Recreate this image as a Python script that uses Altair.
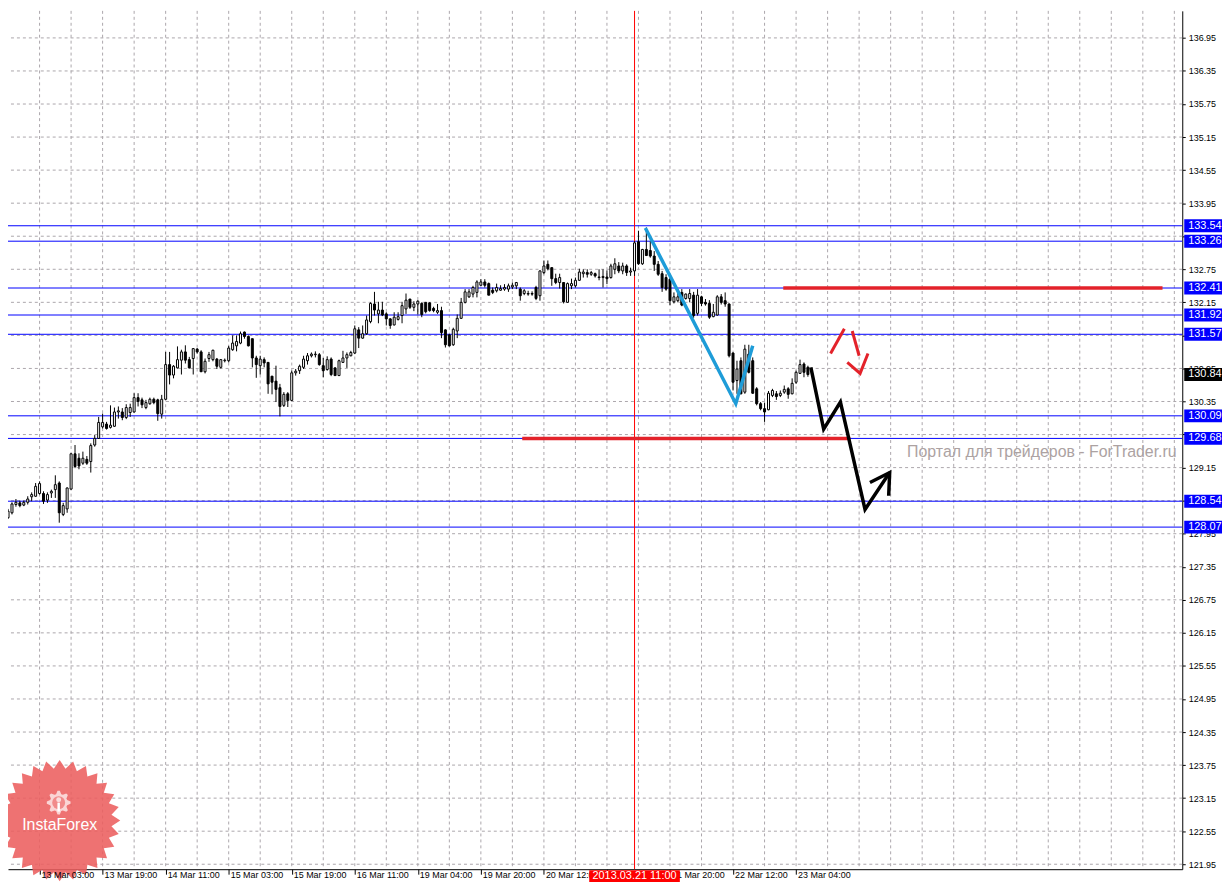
import math
import altair as alt
import pandas as pd

# ---------------- data (H1 bars, index = bar number) ----------------
opens = [128.24,128.33,128.48,128.51,128.47,128.52,128.62,128.63,128.68,128.68,
128.56,128.69,128.75,128.87,128.30,128.40,128.76,129.40,129.32,129.23,
129.30,129.26,129.56,129.68,129.89,129.94,129.88,129.90,130.16,130.16,
130.06,130.15,130.16,130.42,130.38,130.24,130.31,130.39,130.38,130.12,
130.39,131.02,130.83,130.96,131.10,131.25,131.11,131.13,131.30,131.25,
130.89,131.13,131.11,131.12,130.97,131.09,131.09,131.29,131.36,131.41,
131.61,131.53,131.49,131.14,131.00,131.11,131.06,130.81,130.72,130.60,
130.28,130.49,130.37,130.87,130.91,130.97,131.09,131.18,131.20,131.20,
131.00,130.93,131.12,130.96,130.82,131.06,131.14,131.18,131.23,131.65,
131.50,131.58,131.80,132.12,131.94,132.01,131.94,131.85,131.74,131.84,
131.91,132.03,132.21,132.06,132.12,132.13,132.15,132.14,132.04,131.97,
132.00,131.65,131.56,131.38,131.63,131.86,132.15,132.25,132.30,132.33,
132.46,132.52,132.49,132.37,132.36,132.37,132.39,132.39,132.43,132.45,
132.39,132.31,132.30,132.31,132.42,132.27,132.69,132.84,132.78,132.58,
132.51,132.51,132.15,132.45,132.45,132.55,132.67,132.69,132.66,132.67,
132.61,132.60,132.61,132.60,132.75,132.81,132.72,132.81,132.70,132.72,
133.25,132.85,133.11,133.09,132.99,132.84,132.67,132.60,132.57,132.16,
132.18,132.33,132.22,132.22,132.28,131.95,132.25,132.15,132.13,131.89,
131.92,132.25,132.18,132.12,131.23,130.73,131.09,130.52,131.21,131.09,
130.58,130.31,130.22,130.20,130.46,130.49,130.46,130.52,130.58,130.49,
130.70,130.86,131.03,130.97]

highs = [128.40,128.52,128.58,128.55,128.55,128.63,128.70,128.87,128.90,128.72,
128.70,128.75,129.01,128.90,128.51,128.79,129.41,129.56,129.41,129.44,
129.36,129.59,129.74,130.07,130.13,129.98,130.28,130.24,130.26,130.23,
130.30,130.31,130.50,130.50,130.42,130.38,130.42,130.42,130.40,130.47,
131.25,131.25,131.01,131.35,131.29,131.37,131.16,131.32,131.32,131.28,
131.13,131.25,131.29,131.14,131.12,131.13,131.36,131.55,131.55,131.62,
131.62,131.55,131.49,131.18,131.18,131.15,131.06,130.81,131.00,130.67,
130.52,130.52,130.91,130.94,131.02,131.18,131.23,131.24,131.26,131.23,
131.14,131.17,131.15,130.97,131.11,131.27,131.24,131.27,131.73,131.70,
131.73,131.91,132.15,132.34,132.16,132.16,131.97,131.86,131.97,131.97,
132.16,132.31,132.21,132.17,132.19,132.15,132.15,132.15,132.07,132.12,
132.07,131.66,131.57,131.69,131.93,132.23,132.39,132.39,132.45,132.55,
132.57,132.57,132.51,132.42,132.49,132.46,132.48,132.49,132.51,132.52,
132.42,132.39,132.36,132.35,132.45,132.73,132.91,132.91,132.78,132.67,
132.67,132.51,132.51,132.58,132.60,132.76,132.75,132.75,132.72,132.69,
132.75,132.75,132.73,132.85,132.95,132.88,132.87,132.84,132.78,133.26,
133.45,133.12,133.51,133.26,133.08,132.90,132.72,132.66,132.60,132.33,
132.39,132.39,132.31,132.39,132.34,132.39,132.27,132.21,132.19,132.12,
132.28,132.30,132.33,132.13,131.24,131.09,131.15,131.38,131.38,131.15,
130.61,130.34,130.33,130.54,130.58,130.54,130.55,130.64,130.61,130.77,
130.91,131.11,131.06,131.00]

lows = [128.22,128.30,128.44,128.43,128.45,128.48,128.54,128.62,128.66,128.49,
128.51,128.60,128.60,128.15,128.27,128.33,128.75,129.14,129.12,129.20,
129.20,129.06,129.53,129.67,129.86,129.84,129.86,129.89,130.04,130.01,
130.03,130.07,130.15,130.26,130.23,130.21,130.29,130.30,130.00,130.04,
130.38,130.66,130.77,130.95,130.84,131.04,130.95,130.84,131.22,130.89,
130.86,131.07,131.08,130.94,130.95,131.06,131.06,131.27,131.26,131.39,
131.49,131.35,130.97,130.78,130.84,130.97,130.49,130.48,130.34,130.08,
130.25,130.25,130.36,130.82,130.85,130.94,131.02,131.15,131.15,131.00,
130.79,130.91,130.81,130.82,130.82,131.05,130.96,131.17,131.21,131.32,
131.49,131.56,131.77,131.91,131.77,131.90,131.73,131.67,131.73,131.82,
131.77,131.94,132.03,131.99,131.93,131.88,131.95,131.98,131.97,131.94,
131.50,131.33,131.35,131.36,131.50,131.85,132.13,132.23,132.24,132.24,
132.45,132.42,132.28,132.30,132.33,132.36,132.36,132.34,132.39,132.39,
132.18,132.28,132.27,132.27,132.19,132.18,132.66,132.73,132.45,132.48,
132.40,132.13,132.14,132.39,132.42,132.54,132.60,132.60,132.63,132.60,
132.55,132.42,132.48,132.58,132.66,132.68,132.66,132.63,132.63,132.63,
132.83,132.83,132.99,132.96,132.72,132.63,132.34,132.36,132.10,132.13,
132.15,132.08,132.20,132.15,131.87,131.91,132.08,132.09,131.85,131.88,
131.91,132.11,132.07,131.15,130.55,130.49,130.48,130.49,130.86,130.49,
130.28,130.19,129.98,130.19,130.43,130.38,130.43,130.49,130.40,130.48,
130.67,130.85,130.79,130.80]

closes = [128.36,128.49,128.52,128.46,128.52,128.58,128.66,128.81,128.86,128.54,
128.66,128.72,128.84,128.33,128.46,128.78,129.40,129.17,129.18,129.32,
129.23,129.55,129.68,129.97,129.97,129.86,129.92,130.16,130.18,130.06,
130.24,130.24,130.42,130.35,130.29,130.33,130.39,130.33,130.13,130.39,
131.02,130.83,130.99,131.11,131.25,131.10,130.96,131.31,131.25,130.89,
131.08,131.20,131.28,130.99,131.11,131.10,131.32,131.41,131.44,131.58,
131.53,131.36,131.14,131.02,131.12,131.05,130.67,130.70,130.57,130.26,
130.48,130.37,130.87,130.90,130.99,131.12,131.18,131.21,131.21,131.02,
130.91,131.11,130.84,130.82,131.09,131.14,131.20,131.24,131.67,131.50,
131.58,131.83,132.13,132.01,132.01,131.92,131.85,131.73,131.88,131.89,
132.09,132.19,132.06,132.12,132.17,131.93,131.98,132.00,132.00,132.00,
131.60,131.38,131.36,131.66,131.86,132.15,132.34,132.34,132.42,132.52,
132.52,132.46,132.28,132.33,132.42,132.40,132.42,132.45,132.46,132.51,
132.27,132.36,132.31,132.30,132.22,132.72,132.81,132.76,132.58,132.51,
132.60,132.16,132.49,132.49,132.55,132.70,132.70,132.66,132.69,132.63,
132.60,132.62,132.58,132.81,132.85,132.72,132.81,132.69,132.72,133.23,
132.85,133.11,133.00,132.99,132.84,132.66,132.42,132.39,132.18,132.25,
132.25,132.10,132.30,132.31,131.91,132.28,132.13,132.12,131.88,131.97,
132.25,132.15,132.12,131.18,130.70,130.94,130.49,131.30,130.88,130.50,
130.31,130.22,130.16,130.50,130.55,130.44,130.50,130.57,130.48,130.68,
130.88,131.02,130.88,130.84]

price_ticks = [121.95, 122.55, 123.15, 123.75, 124.35, 124.95, 125.55, 126.15, 126.75,
               127.35, 127.95, 128.55, 129.15, 129.75, 130.35, 130.95, 131.55, 132.15,
               132.75, 133.35, 133.95, 134.55, 135.15, 135.75, 136.35, 136.95]
hidden_ticks = [133.35, 131.55, 128.55]   # fully covered by level boxes in the reference

date_tick_bars = [8, 24, 40, 56, 72, 88, 104, 120, 136, 168, 184, 200]
date_labels = ["13 Mar 03:00", "13 Mar 19:00", "14 Mar 11:00", "15 Mar 03:00",
               "15 Mar 19:00", "16 Mar 11:00", "19 Mar 04:00", "19 Mar 20:00",
               "20 Mar 12:00", "21 Mar 20:00", "22 Mar 12:00", "23 Mar 04:00"]
axis_tick_bars = [8, 24, 40, 56, 72, 88, 104, 120, 136, 152, 168, 184, 200]
grid_bars = list(range(8, 297, 8))

level_prices = [133.54, 133.26, 132.41, 131.92, 131.57, 130.09, 129.68, 128.54, 128.07]
current_price = 130.84

marker_bar = 159
marker_label = "2013.03.21 11:00"
marker_box = [147.5, 170.5]

red_lvl_price = [132.41, 129.68]
red_lvl_from = [196.75, 130.5]
red_lvl_to = [293.0, 213.75]

cyan_bars = [161.75, 184.7, 189.0]
cyan_prices = [133.50, 130.31, 131.36]

black_seg = [0, 0, 0, 0, 0, 1, 1, 1]
black_bars = [203.75, 207.0, 211.25, 217.5, 223.75, 218.75, 223.75, 223.5]
black_prices = [130.97, 129.85, 130.34, 128.39, 129.06, 128.88, 129.06, 128.64]

red_seg = [0, 0, 1, 1, 2, 2, 2]
red_bars = [208.75, 212.25, 214.25, 216.0, 213.0, 216.25, 218.25]
red_prices = [131.22, 131.67, 131.63, 131.18, 131.06, 130.86, 131.22]

watermark = "Портал для трейдеров - ForTrader.ru"
logo_text = "InstaForex"

# ---------------- styling ----------------
W, H = 1182, 864
FONT = "Liberation Sans"
GRID = "#ABA6AB"
BLUE = "#0000FF"
RED = "#E3222A"
CYAN = "#1E9CD8"

x_scale = alt.Scale(domain=[1.25, 296.75], nice=False, zero=False)
y_scale = alt.Scale(domain=[121.86, 137.441], nice=False, zero=False)

hidden_js = "[" + ",".join(f"{v:.2f}" for v in hidden_ticks) + "]"
x_axis = alt.Axis(values=axis_tick_bars, labels=False, ticks=True, tickSize=5,
                  tickColor="black", domainColor="black", domainWidth=1,
                  grid=False, title=None, orient="bottom", zindex=0)
y_axis = alt.Axis(values=price_ticks, orient="right", grid=False,
                  labelExpr=f"indexof({hidden_js}, datum.value) >= 0 ? '' : format(datum.value, '.2f')",
                  tickSize=3, tickColor="black", domainColor="black", domainWidth=1,
                  labelFont=FONT, labelFontSize=9, labelColor="black", labelPadding=3,
                  labelFlush=False, labelOverlap=False, labelBaseline="middle",
                  title=None, zindex=0)


def X(f):
    return alt.X(f, type="quantitative", scale=x_scale, axis=x_axis)


def Y(f):
    return alt.Y(f, type="quantitative", scale=y_scale, axis=y_axis)


candles = pd.DataFrame({"bar": list(range(len(opens))), "open": opens, "high": highs,
                        "low": lows, "close": closes})
candles["fill"] = ["white" if c >= o else "black" for o, c in zip(opens, closes)]

# base layer carrying both axes
axes_df = pd.DataFrame({"bar": [marker_bar], "price": [current_price]})
axes_layer = alt.Chart(axes_df).mark_point(opacity=0, size=1).encode(
    x=X("bar"), y=Y("price"))

# grid
grid_v = alt.Chart(pd.DataFrame({"bar": grid_bars})).mark_rule(
    color=GRID, strokeDash=[3, 3], strokeWidth=1).encode(x=X("bar"))
grid_h = alt.Chart(pd.DataFrame({"price": price_ticks})).mark_rule(
    color=GRID, strokeDash=[3, 3], strokeWidth=1).encode(y=Y("price"))

# InstaForex logo (decoration)
star_pts = []
for i in range(56):
    a = -math.pi / 2 + i * math.pi / 28
    r = 1.0 if i % 2 == 0 else 0.86
    star_pts.append(f"{r * math.cos(a):.4f},{r * math.sin(a):.4f}")
star_path = "M" + " L".join(star_pts) + " Z"
gear_pts = []
for i in range(32):
    a = -math.pi / 2 + (i - 0.5) * 2 * math.pi / 32
    r = 1.0 if i % 4 in (0, 1) else 0.74
    gear_pts.append(f"{r * math.cos(a):.4f},{r * math.sin(a):.4f}")
gear_path = "M" + " L".join(gear_pts) + " Z"

logo_df = pd.DataFrame({"t": [logo_text]})
star = alt.Chart(logo_df).mark_point(shape=star_path, filled=True, size=122 ** 2,
                                     color="#EC5E5E", opacity=0.88, strokeWidth=0).encode(
    x=alt.value(52), y=alt.value(815))
gear = alt.Chart(logo_df).mark_point(shape=gear_path, filled=True, size=24 ** 2,
                                     color="white", strokeWidth=0).encode(
    x=alt.value(51), y=alt.value(797))
gear_hole = alt.Chart(logo_df).mark_point(shape="circle", filled=True, size=13 ** 2,
                                          color="#EC6A6A", strokeWidth=0).encode(
    x=alt.value(51), y=alt.value(797))
gear_head = alt.Chart(logo_df).mark_point(shape="circle", filled=True, size=5 ** 2,
                                          color="white", strokeWidth=0).encode(
    x=alt.value(51), y=alt.value(794))
gear_body = alt.Chart(logo_df).mark_rule(color="white", strokeWidth=2.5).encode(
    x=alt.value(51), y=alt.value(797), y2=alt.value(806))
logo_txt = alt.Chart(logo_df).mark_text(font=FONT, fontSize=16, color="white",
                                        align="center", baseline="middle").encode(
    x=alt.value(52), y=alt.value(820), text="t:N")

wm = alt.Chart(pd.DataFrame({"t": [watermark]})).mark_text(
    font=FONT, fontSize=16, color="#ACA2A2", align="left", baseline="alphabetic").encode(
    x=alt.value(905), y=alt.value(449), text="t:N")

# levels
levels = alt.Chart(pd.DataFrame({"price": level_prices})).mark_rule(
    color=BLUE, strokeWidth=1).encode(y=Y("price"))
vline = alt.Chart(pd.DataFrame({"bar": [marker_bar]})).mark_rule(
    color="#FF0000", strokeWidth=1).encode(x=X("bar"))

# candles
wicks = alt.Chart(candles).mark_rule(color="black", strokeWidth=1, clip=True).encode(
    x=X("bar"), y=Y("low"), y2=alt.Y2("high"))
bodies = alt.Chart(candles).mark_bar(size=2, stroke="black", strokeWidth=1, clip=True).encode(
    x=X("bar"), y=Y("open"), y2=alt.Y2("close"), fill=alt.Fill("fill:N", scale=None))

# drawings
red_lv = alt.Chart(pd.DataFrame({"price": red_lvl_price, "b0": red_lvl_from,
                                 "b1": red_lvl_to})).mark_rule(
    color=RED, strokeWidth=3.5).encode(x=X("b0"), x2=alt.X2("b1"), y=Y("price"))
cyan = alt.Chart(pd.DataFrame({"bar": cyan_bars, "price": cyan_prices,
                               "i": list(range(len(cyan_bars)))})).mark_line(
    color=CYAN, strokeWidth=3.5, strokeJoin="miter").encode(
    x=X("bar"), y=Y("price"), order="i:Q")
barrow = alt.Chart(pd.DataFrame({"bar": black_bars, "price": black_prices, "seg": black_seg,
                                 "i": list(range(len(black_bars)))})).mark_line(
    color="black", strokeWidth=3.5, strokeJoin="miter").encode(
    x=X("bar"), y=Y("price"), detail="seg:N", order="i:Q")
rarrow = alt.Chart(pd.DataFrame({"bar": red_bars, "price": red_prices, "seg": red_seg,
                                 "i": list(range(len(red_bars)))})).mark_line(
    color=RED, strokeWidth=3, strokeJoin="miter").encode(
    x=X("bar"), y=Y("price"), detail="seg:N", order="i:Q")

# bottom date labels
dates = alt.Chart(pd.DataFrame({"bar": date_tick_bars, "t": date_labels})).mark_text(
    font=FONT, fontSize=9, color="black", align="left", baseline="top", dx=2).encode(
    x=X("bar"), y=alt.value(866), text="t:N")
mbox = alt.Chart(pd.DataFrame({"b0": [marker_box[0]], "b1": [marker_box[1]]})).mark_rect(
    color="#FF0000").encode(x=X("b0"), x2=alt.X2("b1"), y=alt.value(865), y2=alt.value(884))
mtxt = alt.Chart(pd.DataFrame({"bar": [marker_bar], "t": [marker_label]})).mark_text(
    font=FONT, fontSize=11, color="white", align="center", baseline="top").encode(
    x=X("bar"), y=alt.value(865), text="t:N")

# right-hand price boxes
lv = pd.DataFrame({"price": level_prices + [current_price],
                   "kind": ["lvl"] * len(level_prices) + ["cur"]})
lv["top"] = lv["price"] + 0.117
lv["bot"] = lv["price"] - 0.117
lv["label"] = [f"{p:.2f}" for p in lv["price"]]
lv["box"] = [BLUE if k == "lvl" else "black" for k in lv["kind"]]
boxes = alt.Chart(lv).mark_rect().encode(
    x=alt.value(1184), x2=alt.value(1222), y=Y("top"), y2=alt.Y2("bot"),
    fill=alt.Fill("box:N", scale=None))
box_txt = alt.Chart(lv).mark_text(font=FONT, fontSize=11, color="white", align="left",
                                  baseline="middle").encode(
    x=alt.value(1188), y=Y("price"), text="label:N")

chart = alt.layer(
    axes_layer, grid_v, grid_h, star, gear, gear_hole, gear_head, gear_body, logo_txt, wm,
    levels, vline, wicks, bodies, red_lv, cyan, barrow, rarrow,
    dates, mbox, mtxt, boxes, box_txt
).properties(
    width=W, height=H,
    autosize=alt.AutoSizeParams(type="none"),
    padding={"left": 0, "top": 0, "right": 40, "bottom": 10},
    background="white",
).configure_view(strokeOpacity=0)

chart.save("out.html", embed_options={"renderer": "svg", "actions": False})
